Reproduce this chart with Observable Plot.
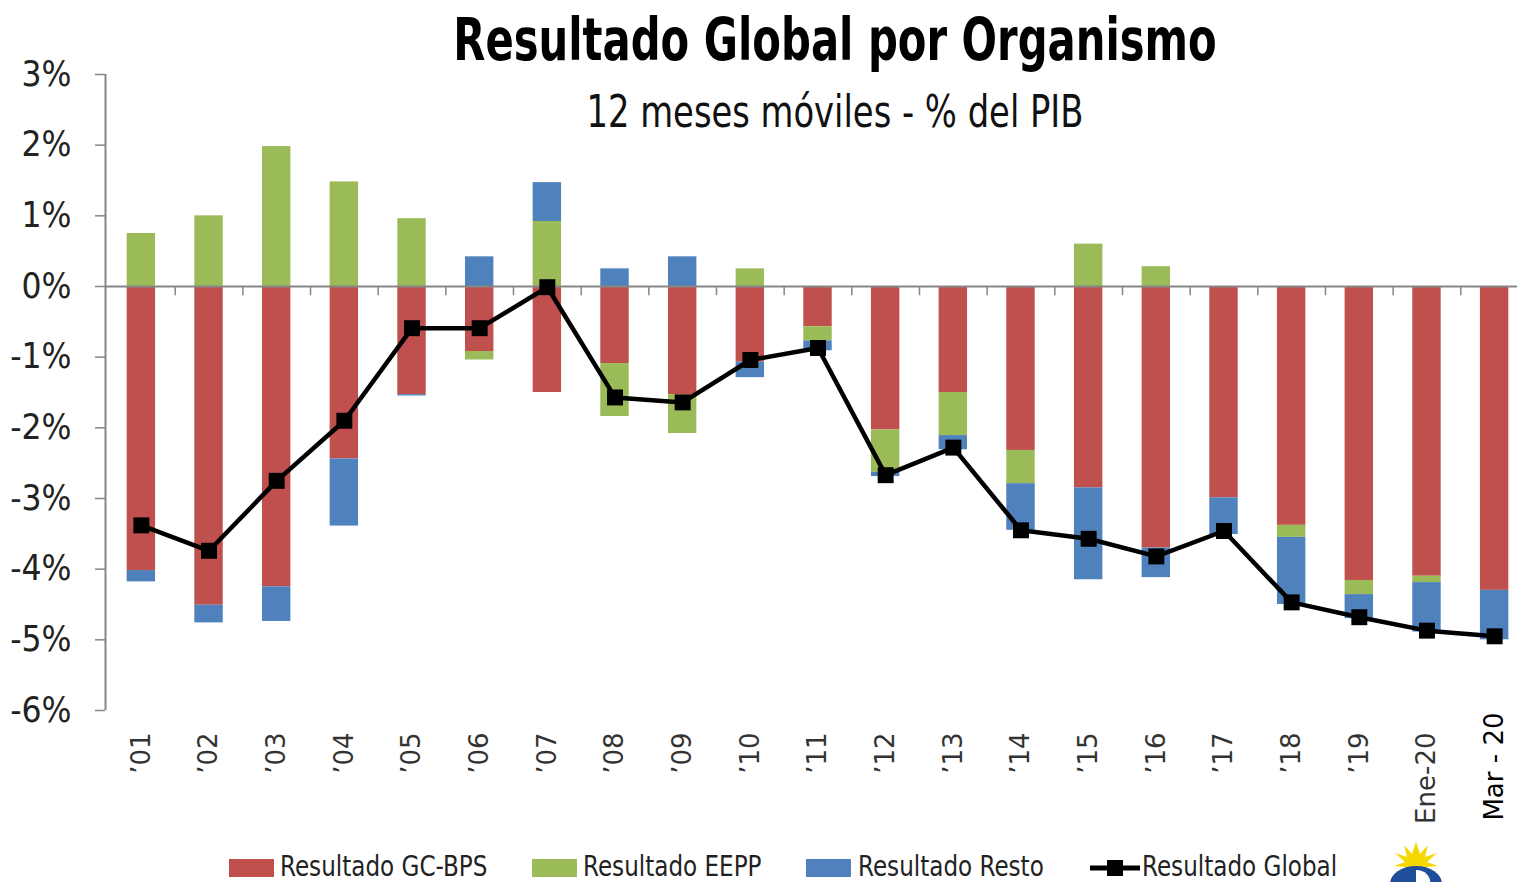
<!DOCTYPE html>
<html>
<head>
<meta charset="utf-8">
<script src="https://cdn.jsdelivr.net/npm/d3@7"></script>
<script src="https://cdn.jsdelivr.net/npm/@observablehq/plot@0.6"></script>
<style>
  html, body { margin: 0; padding: 0; background: #fff; overflow: hidden; }
  #wrap { position: relative; width: 1517px; height: 882px; }
  #chart { position: absolute; left: 0; top: 0; }
  .ttl { position: absolute; left: 0; width: 1670px; text-align: center; line-height: 1; font-family: "Liberation Sans Narrow", "DejaVu Sans Condensed", sans-serif; color: #000; white-space: nowrap; transform-origin: 835px 0; }
  #title { top: 11px; font-size: 58px; font-weight: bold; transform: scaleX(0.8); }
  #subtitle { top: 89px; font-size: 45px; color: #111; transform: scaleX(0.834); }
  .leg { position: absolute; top: 852px; line-height: 1; font-family: "Liberation Sans Narrow", "DejaVu Sans Condensed", sans-serif; font-size: 29px; color: #222; white-space: nowrap; transform: scaleX(0.885); transform-origin: 0 0; }
  .sw { position: absolute; top: 859px; width: 45px; height: 18px; }
</style>
</head>
<body>
<div id="wrap">
  <div id="chart"></div>
  <div id="title" class="ttl">Resultado Global por Organismo</div>
  <div id="subtitle" class="ttl">12 meses móviles - % del PIB</div>
  <div class="sw" style="left:229px;background:#C0504D"></div>
  <div class="leg" style="left:280px">Resultado GC-BPS</div>
  <div class="sw" style="left:532px;background:#9BBB59"></div>
  <div class="leg" style="left:583px">Resultado EEPP</div>
  <div class="sw" style="left:806px;background:#4F81BD"></div>
  <div class="leg" style="left:858px">Resultado Resto</div>
  <svg style="position:absolute;left:1088px;top:856px" width="54" height="24">
    <line x1="2" y1="12" x2="52" y2="12" stroke="#000" stroke-width="5"/>
    <rect x="19" y="4" width="16" height="16" fill="#000"/>
  </svg>
  <div class="leg" style="left:1142px">Resultado Global</div>
  <svg style="position:absolute;left:1380px;top:840px" width="80" height="42">
    <g transform="translate(36,24)">
      <polygon fill="#F5D800" points="0,-22 4,-10 12,-19 9,-7 21,-11 11,-2 22,2 10,3 17,12 6,6 0,14 -6,6 -17,12 -10,3 -22,2 -11,-2 -21,-11 -9,-7 -12,-19 -4,-10"/>
      <path d="M -26 20 A 26 18 0 0 1 26 20 Z" fill="#1F4E9A"/>
      <path d="M 0 20 L 0 6 A 14 12 0 0 1 14 20 Z" fill="#ffffff"/>
    </g>
  </svg>
</div>
<script>
const categories = ["’01","’02","’03","’04","’05","’06","’07","’08","’09","’10","’11","’12","’13","’14","’15","’16","’17","’18","’19","Ene-20","Mar - 20"];
const seriesNames = ["Resultado GC-BPS","Resultado EEPP","Resultado Resto"];
const gcbps = [-4.02,-4.51,-4.25,-2.44,-1.53,-0.92,-1.50,-1.09,-1.53,-1.07,-0.57,-2.03,-1.50,-2.32,-2.85,-3.70,-2.99,-3.38,-4.16,-4.10,-4.30];
const eepp  = [0.75,1.00,1.98,1.48,0.96,-0.12,0.92,-0.75,-0.55,0.25,-0.20,-0.60,-0.61,-0.47,0.60,0.28,0,-0.17,-0.20,-0.09,0];
const resto = [-0.16,-0.25,-0.49,-0.95,-0.02,0.42,0.55,0.25,0.42,-0.22,-0.14,-0.06,-0.20,-0.66,-1.30,-0.42,-0.52,-0.95,-0.34,-0.70,-0.70];
const global = [-3.38,-3.74,-2.75,-1.90,-0.59,-0.59,-0.01,-1.57,-1.64,-1.04,-0.87,-2.67,-2.28,-3.45,-3.57,-3.82,-3.46,-4.47,-4.68,-4.87,-4.95];
const yTicks = [3,2,1,0,-1,-2,-3,-4,-5,-6];
const colors = ["#C0504D","#9BBB59","#4F81BD"];

const stackRows = [];
[gcbps, eepp, resto].forEach((arr, s) => arr.forEach((v, i) => stackRows.push({cat: categories[i], series: seriesNames[s], value: v})));
const lineRows = global.map((v, i) => ({cat: categories[i], v}));

const pInner = 0.58, pOuter = 0.32, x0 = 105, x1 = 1530;
const step = (x1 - x0) / (categories.length - pInner + 2 * pOuter);

const plot = Plot.plot({
  width: 1517,
  height: 840,
  marginTop: 74,
  marginBottom: 130,
  marginLeft: 105,
  marginRight: 0,
  style: {fontFamily: "'Liberation Sans Narrow', 'DejaVu Sans Condensed', sans-serif", fontSize: "35px", background: "transparent", overflow: "visible"},
  x: {domain: categories, range: [x0, x1], paddingInner: pInner, paddingOuter: pOuter, round: false, axis: null},
  y: {domain: [-6, 3], axis: null},
  color: {domain: seriesNames, range: colors},
  marks: [
    Plot.barY(stackRows, {x: "cat", y: "value", fill: "series", order: null}),
    Plot.ruleY([0], {stroke: "#868686", strokeWidth: 2}),
    Plot.ruleX(categories, {x: d => d, y1: 0, y2: -0.13, dx: step / 2, stroke: "#868686", strokeWidth: 1.5}),
    Plot.ruleX([categories[0]], {x: d => d, y1: -6, y2: 3, dx: -(pOuter * step + step * (1 - pInner) / 2), stroke: "#868686", strokeWidth: 2}),
    Plot.axisY({ticks: yTicks, tickFormat: d => d + "%", tickSize: 10, tickPadding: 24, stroke: "#868686", fill: "#222", label: null, strokeWidth: 1.5}),
    Plot.line(lineRows, {x: "cat", y: "v", stroke: "#000", strokeWidth: 4.5}),
    Plot.dot(lineRows, {x: "cat", y: "v", symbol: "square", r: 9, fill: "#000"}),
    Plot.text(categories.slice(0, -1), {x: d => d, frameAnchor: "bottom", dy: 22, rotate: -90, textAnchor: "end", lineAnchor: "middle", fontSize: 26, fontFamily: "DejaVu Sans", fill: "#333"}),
    Plot.text(categories.slice(-1), {x: d => d, frameAnchor: "bottom", dy: 2, rotate: -90, textAnchor: "end", lineAnchor: "middle", fontSize: 26, fontFamily: "DejaVu Sans", fill: "#000"})
  ]
});
document.getElementById("chart").appendChild(plot);
</script>
</body>
</html>
